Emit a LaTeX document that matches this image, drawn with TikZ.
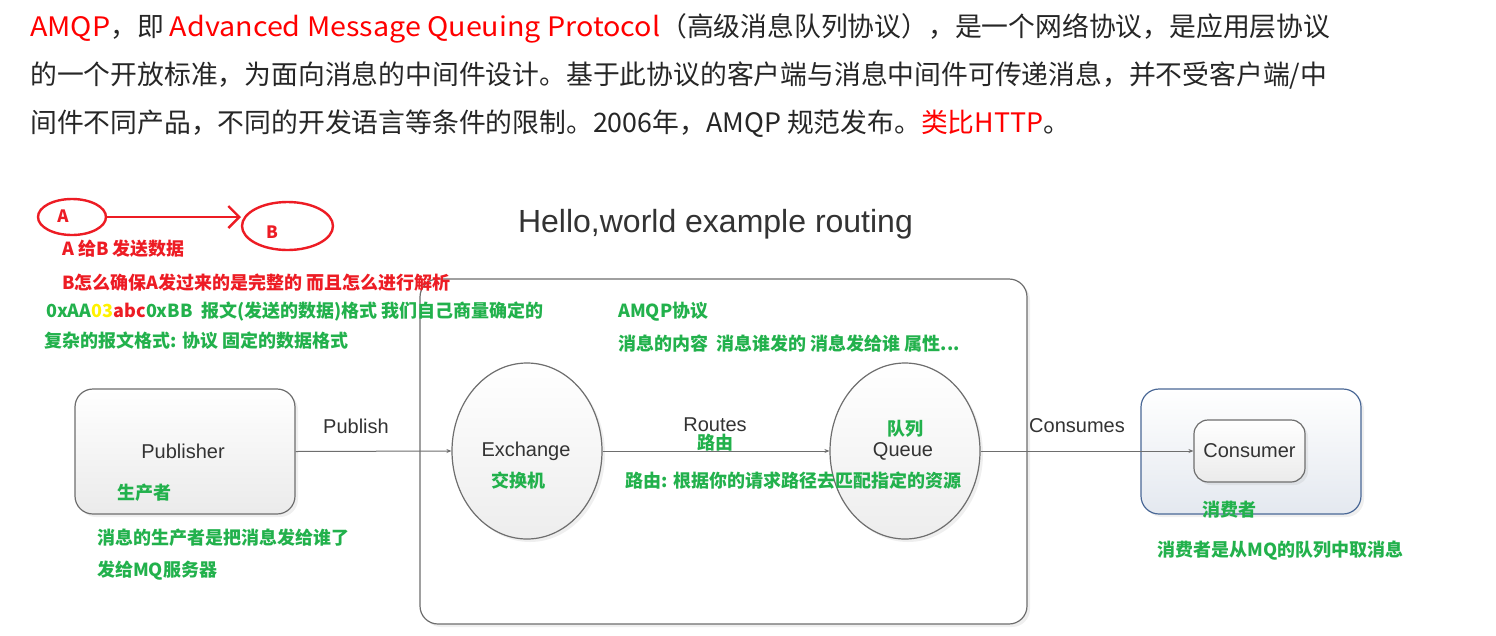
\documentclass[tikz,border=0pt]{standalone}
\usepackage{fontspec}
\setmainfont{Liberation Sans}
\newfontfamily\cjk{Noto Sans CJK SC}
\newfontfamily\cjklat{Noto Sans CJK SC}[FakeStretch=1.07]
\usetikzlibrary{arrows.meta,shapes.geometric,shadows}
\definecolor{tred}{HTML}{FF0000}
\definecolor{ared}{HTML}{ED1C24}
\definecolor{agreen}{HTML}{22B14C}
\definecolor{ayellow}{HTML}{FFF200}
\definecolor{txt}{HTML}{262626}
\definecolor{lbl}{HTML}{333333}
\definecolor{edge}{HTML}{6E6E6E}
\definecolor{cblue}{HTML}{4A6896}
\tikzset{
  para/.style={anchor=west,inner sep=0pt,text=txt,font=\cjk\fontsize{26.8}{30}\selectfont},
  rnote/.style={anchor=west,inner sep=0pt,text=ared,font=\cjk\bfseries\fontsize{18}{20}\selectfont},
  gnote/.style={anchor=west,inner sep=0pt,text=agreen,font=\cjk\bfseries\fontsize{18}{20}\selectfont},
  lab/.style={inner sep=0pt,text=lbl,font=\fontsize{20}{24}\selectfont},
  shd/.style={drop shadow={opacity=0.12,shadow xshift=3pt,shadow yshift=-3pt}},
  rbox/.style={draw=edge,line width=1.2pt,rounded corners=18pt,top color=white,bottom color=black!8,shd},
  ball/.style={ellipse,draw=edge,line width=1.2pt,top color=white,bottom color=black!7,shd},
  conn/.style={draw=edge,line width=1pt,-{Stealth[length=5pt,width=4pt]}},
  redell/.style={ellipse,draw=ared,line width=2.4pt,inner sep=0pt},
}
\begin{document}
\begin{tikzpicture}[x=1pt,y=-1pt]
\useasboundingbox (0,0) rectangle (1496,635);
\fill[white] (0,0) rectangle (1496,635);

% big AMQP box (drawn first, texts overlap it)
\node[draw=edge,line width=1.2pt,rounded corners=18pt,fill=white,shd,minimum width=607pt,minimum height=345pt,inner sep=0pt] (amqp) at (723.5,451.5) {};

% paragraph
\node[para] (p1) at (30,28) {\textcolor{tred}{\cjklat AMQP}，即 \textcolor{tred}{\cjklat Advanced Message Queuing Protocol}（高级消息队列协议），是一个网络协议，是应用层协议};
\node[para] (p2) at (30,76) {的一个开放标准，为面向消息的中间件设计。基于此协议的客户端与消息中间件可传递消息，并不受客户端/中};
\node[para] (p3) at (30,124) {间件不同产品，不同的开发语言等条件的限制。2006年，AMQP 规范发布。\textcolor{tred}{类比HTTP}。};

% A -> B sketch
\node[redell,minimum width=68pt,minimum height=36pt] (ea) at (72,217) {};
\node[redell,minimum width=91pt,minimum height=48pt] (eb) at (287.5,226) {};
\node[inner sep=0pt,text=ared,font=\cjk\bfseries\fontsize{17}{18}\selectfont] (ta) at (63,216) {A};
\node[inner sep=0pt,text=ared,font=\cjk\bfseries\fontsize{17}{18}\selectfont] (tb) at (272,232) {B};
\coordinate (bt) at (241,217);
\draw[ared,line width=2.4pt,-{Straight Barb[length=11pt,width=22pt,line width=2.4pt]}] (ea.east) -- (bt);

\node[rnote] (r1) at (62,249) {A 给B 发送数据};
\node[rnote] (r2) at (62,283) {B怎么确保A发过来的是完整的 而且怎么进行解析};
\node[gnote] (g1) at (46,312) {0xAA\textcolor{ayellow}{03}\textcolor{ared}{abc}0xBB\ \ 报文(发送的数据)格式 我们自己商量确定的};
\node[gnote] (g2) at (44,341) {复杂的报文格式: 协议 固定的数据格式};

% title
\node[inner sep=0pt,text=lbl,font=\fontsize{32}{36}\selectfont] (title) at (715.5,224) {Hello,world example routing};

\node[gnote] (g3) at (618,312) {AMQP协议};
\node[gnote] (g4) at (618,344) {消息的内容\ \ 消息谁发的 消息发给谁 属性...};

% publisher
\node[rbox,minimum width=220pt,minimum height=125pt,inner sep=0pt] (pub) at (185,451.5) {};
\node[lab] (pubt) at (183,451) {Publisher};
\node[gnote] (g5) at (117,493) {生产者};
\node[gnote] (g6) at (97,538) {消息的生产者是把消息发给谁了};
\node[gnote] (g7) at (97,571) {发给MQ服务器};

% exchange & queue
\node[ball,minimum width=150pt,minimum height=176pt,inner sep=0pt] (ex) at (527,451) {};
\node[lab] (ext) at (526,451) {Exchange};
\node[gnote] (g8) at (491,481) {交换机};
\node[ball,minimum width=150pt,minimum height=176pt,inner sep=0pt] (q) at (905,451) {};
\node[gnote] (g9) at (887,429) {队列};
\node[lab] (qt) at (903,451) {Queue};

% consumer
\node[draw=cblue,line width=1.2pt,rounded corners=18pt,top color=white,bottom color=cblue!15,shd,minimum width=220pt,minimum height=125pt,inner sep=0pt] (cons) at (1251,451.5) {};
\node[rbox,rounded corners=14pt,minimum width=111pt,minimum height=62pt,inner sep=0pt,text=lbl,font=\fontsize{20}{24}\selectfont] (con) at (1249.5,451) {Consumer};
\node[gnote] (g10) at (1202,510) {消费者};
\node[gnote] (g11) at (1157,551) {消费者是从MQ的队列中取消息};

% connectors
\draw[conn] (pub.east) -- (ex.west);
\draw[conn] (ex.east) -- (q.west);
\draw[conn] (q.east) -- (con.west);

\node[lab] (pl) at (356,426) {Publish};
\node[lab] (rl) at (715,425) {Routes};
\node[gnote] (g12) at (697,443) {路由};
\node[lab] (cl) at (1077,426) {Consumes};
\node[gnote] (g13) at (625,481) {路由: 根据你的请求路径去匹配指定的资源};
\end{tikzpicture}
\end{document}
